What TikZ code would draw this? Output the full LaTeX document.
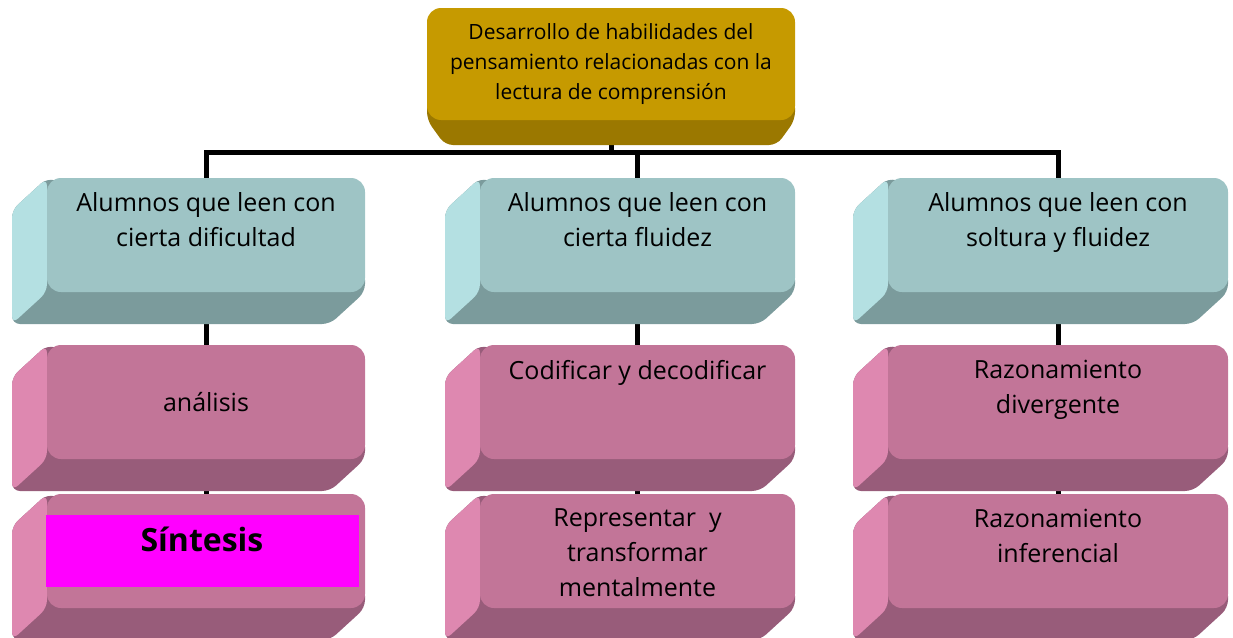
\documentclass[tikz,border=0pt]{standalone}
\usepackage{fontspec}
\setmainfont{Open Sans}
\usetikzlibrary{positioning, calc}
\pgfdeclarelayer{wires}
\pgfdeclarelayer{sides}
\pgfsetlayers{wires,sides,main}

\definecolor{tealface}{HTML}{9EC4C5}
\definecolor{tealside}{HTML}{B4E0E2}
\definecolor{tealbase}{HTML}{7B9B9C}
\definecolor{pinkface}{HTML}{C27598}
\definecolor{pinkside}{HTML}{DE88B0}
\definecolor{pinkbase}{HTML}{985C7A}
\definecolor{goldface}{HTML}{C69A00}
\definecolor{goldbase}{HTML}{9B7800}
\definecolor{fuchsia}{HTML}{FF00FF}

\newcommand{\toptext}[1]{\parbox[c][84pt][t]{300pt}{\centering #1}}
% extruded sides of a box, drawn behind its face
\newcommand{\slab}[3]{%
  \begin{pgfonlayer}{sides}
  \fill[#3, rounded corners=8pt] ($(#1.south east)+(0,-20)$) -- (#1.south east) -- ++(-35,32) -- ($(#1.south west)+(-35,32)$) -- ($(#1.north west)+(-35,32)$) -- (#1.north west) -- cycle;
  \fill[#2, rounded corners=8pt] (#1.north west) -- ++(-35,32) -- ($(#1.south west)+(-35,32)$) -- (#1.south west) -- cycle;
  \end{pgfonlayer}}

\begin{document}
\begin{tikzpicture}[x=1pt, y=-1pt, node distance=53pt,
  wire/.style={line width=5pt},
  face/.style={rounded corners=14pt, inner sep=0pt, outer sep=0pt, minimum height=114pt, font=\fontsize{25}{35}\selectfont},
  tealbox/.style={face, fill=tealface},
  pinkbox/.style={face, fill=pinkface}]
\useasboundingbox (0,0) rectangle (1233,637);

\node[face, fill=goldface, minimum width=368pt, minimum height=112pt, align=center, font=\fontsize{21}{30}\selectfont] (topic) at (611,64) {Desarrollo de habilidades del\\ pensamiento relacionadas con la\\ lectura de comprensión};

\node[tealbox, minimum width=318pt, anchor=north west] (dif) at (47,178) {\toptext{Alumnos que leen con\\ cierta dificultad}};
\node[tealbox, minimum width=315pt, anchor=north west] (flu) at (480,178) {\toptext{Alumnos que leen con\\ cierta fluidez}};
\node[tealbox, minimum width=340pt, anchor=north west] (sol) at (888,178) {\toptext{Alumnos que leen con\\ soltura y fluidez}};

\node[pinkbox, minimum width=318pt, below=of dif] (ana) {análisis};
\node[pinkbox, minimum width=318pt, below=35pt of ana] (sin) {};
\node[fill=fuchsia, minimum width=313pt, minimum height=72pt, inner ysep=0pt, outer sep=0pt, text depth=24pt, font=\fontsize{32}{36}\selectfont\bfseries] (sinlabel) at ([xshift=-4pt]sin.center) {Síntesis};

\node[pinkbox, minimum width=315pt, below=of flu] (cod) {\toptext{Codificar y decodificar}};
\node[pinkbox, minimum width=315pt, below=35pt of cod] (rep) {\toptext{Representar\ \ y\\ transformar\\ mentalmente}};

\node[pinkbox, minimum width=340pt, below=of sol] (div) {\toptext{Razonamiento\\ divergente}};
\node[pinkbox, minimum width=340pt, below=35pt of div] (inf) {\toptext{Razonamiento\\ inferencial}};

\slab{dif}{tealside}{tealbase}
\slab{flu}{tealside}{tealbase}
\slab{sol}{tealside}{tealbase}
\slab{ana}{pinkside}{pinkbase}
\slab{sin}{pinkside}{pinkbase}
\slab{cod}{pinkside}{pinkbase}
\slab{rep}{pinkside}{pinkbase}
\slab{div}{pinkside}{pinkbase}
\slab{inf}{pinkside}{pinkbase}
\begin{pgfonlayer}{sides}
\fill[goldbase, rounded corners=8pt] ($(topic.south west)+(0,-20)$) -- ($(topic.south east)+(0,-20)$) -- (topic.south east) -- ++(-18,25) -- ($(topic.south west)+(18,25)$) -- (topic.south west) -- cycle;
\end{pgfonlayer}

\begin{pgfonlayer}{wires}
\coordinate (bus) at (611,152);
\draw[wire] (topic.south) -- (topic.south |- bus);
\draw[wire] (dif.north) -- (dif.north |- bus) -- (sol.north |- bus) -- (sol.north);
\draw[wire] (flu.north) -- (flu.north |- bus);
\draw[wire] (dif) -- (sin);
\draw[wire] (flu) -- (rep);
\draw[wire] (sol) -- (inf);
\end{pgfonlayer}
\end{tikzpicture}
\end{document}
